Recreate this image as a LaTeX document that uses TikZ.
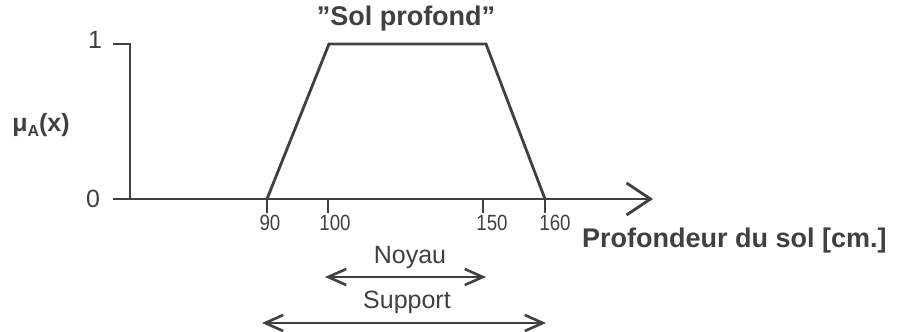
\documentclass[tikz,border=0pt]{standalone}
\usepackage{fontspec}
\setmainfont{Liberation Sans}
\usetikzlibrary{arrows.meta}
\definecolor{ink}{HTML}{404040}
\newcommand{\narrow}[1]{\scalebox{0.85}[1]{#1}}
\begin{document}
\begin{tikzpicture}[x=1pt,y=-1pt,
  line/.style={draw=ink,line width=2.8pt,line cap=butt,line join=miter},
  tick/.style={draw=ink,line width=2pt},
  lab/.style={text=ink,font=\fontsize{25}{27}\selectfont,inner sep=0pt},
  num/.style={text=ink,font=\fontsize{22}{24}\selectfont,inner sep=0pt},
  blab/.style={text=ink,font=\fontsize{27}{29}\selectfont\bfseries,inner sep=0pt},
  barb/.style={line width=2.6pt,draw=ink,{Straight Barb[length=18pt,width=16pt]}-{Straight Barb[length=18pt,width=16pt]}}]
\useasboundingbox (0,0) rectangle (903,332);
% points
\coordinate (O) at (130,199);
\coordinate (Ytop) at (130,44);
\coordinate (Ytick) at (113,44);
\coordinate (Xstart) at (113,199);
\coordinate (Xend) at (653,199);
\coordinate (p90) at (267,199);
\coordinate (p100) at (329,44);
\coordinate (p150) at (486,44);
\coordinate (p160) at (545,199);
% axes
\draw[line] (Ytick) -- (Ytop) -- (O);
\draw[line,-{Straight Barb[length=24pt,width=32pt,line width=2.8pt]}] (Xstart) -- (Xend);
% ticks
\foreach \x/\n in {267/t90,328/t100,483/t150,545/t160}{
  \draw[tick] (\x,199) -- (\x,213);
}
% trapezoid
\draw[line] (p90) -- (p100) -- (p150) -- (p160);
% labels
\node[lab] (one) at (95,40) {1};
\node[lab] (zero) at (93,199) {0};
\node[blab,font=\fontsize{25}{27}\selectfont\bfseries] (mu) at (41,125) {μ\raisebox{-0.35ex}{\fontsize{16}{16}\selectfont A}(x)};
\node[blab] (title) at (406,19) {"Sol profond"};
\node[num] (l90) at (270,223) {\narrow{90}};
\node[num] (l100) at (335,223) {\narrow{100}};
\node[num] (l150) at (492,223) {\narrow{150}};
\node[num] (l160) at (555,223) {\narrow{160}};
\node[blab,anchor=west] (xlab) at (582,241) {Profondeur du sol [cm.]};
\node[lab] (noyau) at (410,257) {Noyau};
\node[lab] (support) at (407,302) {Support};
\coordinate (nL) at (325,277);
\coordinate (nR) at (486,277);
\coordinate (sL) at (262,323);
\coordinate (sR) at (546,323);
\draw[barb] (nL) -- (nR);
\draw[barb] (sL) -- (sR);
\end{tikzpicture}
\end{document}
